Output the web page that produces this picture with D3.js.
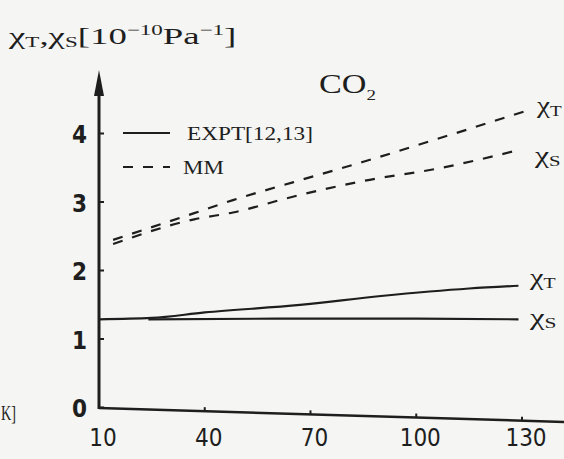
<!DOCTYPE html>
<html><head><meta charset="utf-8">
<script src="https://cdn.jsdelivr.net/npm/d3@7"></script>
<style>body{margin:0;background:#f5f5f3}svg{display:block}</style>
</head><body>
<svg id="c" width="564" height="459"></svg>
<script>
const xTicks = [10, 40, 70, 100, 130];
const yTicks = [0, 1, 2, 3, 4];
const mmChiT = [[14,2.44],[37,2.83],[48,3.02],[65,3.28],[85,3.58],[107,3.93],[131,4.32]];
const mmChiS = [[14,2.38],[37,2.74],[48,2.84],[65,3.07],[85,3.30],[107,3.49],[129,3.75]];
const exChiT = [[10,1.28],[25,1.30],[40,1.38],[67,1.49],[90,1.62],[115,1.73],[129,1.77]];
const exChiS = [[24,1.28],[60,1.29],[100,1.29],[129,1.28]];
const legendItems = [{label:"EXPT[12,13]", dash:null},{label:"MM", dash:"10,10"}];

const svg = d3.select("#c");
const ink = "#1e1e1e";
const serif = "Liberation Serif, serif";
const sans = "DejaVu Sans Condensed, DejaVu Sans, sans-serif";
const x = d3.scaleLinear().domain([10,130]).range([99,522]);
const y = d3.scaleLinear().domain([0,4]).range([407,133]);
// slightly tilted baseline of the scanned x axis
const axisY = d3.scaleLinear().domain([99,564]).range([408,422]);

// x axis
svg.append("line").attr("x1",99).attr("x2",564).attr("y1",axisY(99)).attr("y2",axisY(564))
  .attr("stroke",ink).attr("stroke-width",2.5);
xTicks.forEach(t=>{
  const px = x(t);
  if (t !== 10) svg.append("line").attr("x1",px).attr("x2",px).attr("y1",axisY(px)-4).attr("y2",axisY(px))
    .attr("stroke",ink).attr("stroke-width",2);
  svg.append("text").attr("x",px+4).attr("y",446).attr("text-anchor","middle")
    .attr("font-family",sans).attr("font-size",24).attr("fill",ink).text(d3.format("d")(t));
});

// y axis
const yAxis = d3.axisLeft(y).tickValues(yTicks).tickFormat(d3.format("d")).tickSizeInner(-5).tickSizeOuter(0).tickPadding(12);
const gy = svg.append("g").attr("transform","translate(99,0)").call(yAxis);
gy.select(".domain").remove();
gy.append("line").attr("x1",0).attr("x2",0).attr("y1",409).attr("y2",88).attr("stroke",ink).attr("stroke-width",3);
gy.append("path").attr("d","M0,70 L-5,96 L5,96 Z").attr("fill",ink);
gy.selectAll(".tick line").attr("stroke",ink).attr("stroke-width",2);
gy.selectAll(".tick text").attr("fill",ink).attr("font-family",sans).attr("font-size",24).attr("font-weight","bold").attr("dy","0.4em");

// lines
const line = d3.line().x(d=>x(d[0])).y(d=>y(d[1])).curve(d3.curveMonotoneX);
[[mmChiT,"10,10"],[mmChiS,"10,10"],[exChiT,null],[exChiS,null]].forEach(([data,dash])=>{
  svg.append("path").datum(data).attr("d",line).attr("fill","none").attr("stroke",ink)
    .attr("stroke-width",2.2).attr("stroke-dasharray",dash);
});

// text fitting helper: stretch horizontally to the width seen in the scan
function fit(textSel, x0, base, width){
  const bb = textSel.node().getBBox();
  const s = width / bb.width;
  textSel.attr("x",0).attr("y",0).attr("transform",`translate(${x0},${base}) scale(${s},1)`);
  return textSel;
}

// legend
legendItems.forEach((it,i)=>{
  const yy = 133 + i*34;
  svg.append("line").attr("x1",123).attr("x2",170).attr("y1",yy).attr("y2",yy)
    .attr("stroke",ink).attr("stroke-width",2).attr("stroke-dasharray",it.dash);
  const tx = svg.append("text").attr("font-family",serif).attr("font-size",19).attr("fill",ink).text(it.label);
  fit(tx, i===0?187:183, yy+7, i===0?126:41);
});

// title
const t = svg.append("text").attr("font-family",serif).attr("font-size",24).attr("fill",ink);
t.append("tspan").text("χ");
t.append("tspan").attr("font-size",15).attr("dy",3).text("T");
t.append("tspan").attr("dy",-3).text(",χ");
t.append("tspan").attr("font-size",15).attr("dy",3).text("S");
t.append("tspan").attr("dy",-3).text("[10");
t.append("tspan").attr("font-size",15).attr("dy",-9).text("−10");
t.append("tspan").attr("dy",9).text("Pa");
t.append("tspan").attr("font-size",15).attr("dy",-9).text("−1");
t.append("tspan").attr("dy",9).text("]");
fit(t, 9, 44, 229);

const co = svg.append("text").attr("font-family",serif).attr("font-size",27).attr("fill",ink);
co.append("tspan").text("CO");
co.append("tspan").attr("font-size",15).attr("dy",7).text("2");
fit(co, 319, 93, 57);

function chiLabel(xp, yp, sub, w){
  const g = svg.append("text").attr("font-family",serif).attr("font-size",23).attr("fill",ink);
  g.append("tspan").text("χ");
  g.append("tspan").attr("font-size",15).attr("dy",3).text(sub);
  fit(g, xp, yp, w);
}
chiLabel(537,113,"T",26);
chiLabel(535,163,"S",27);
chiLabel(530,285,"T",27);
chiLabel(530,325,"S",28);

const k = svg.append("text").attr("font-family",serif).attr("font-size",22).attr("fill",ink).text("K]");
fit(k, 1, 420, 15);
</script>
</body></html>
